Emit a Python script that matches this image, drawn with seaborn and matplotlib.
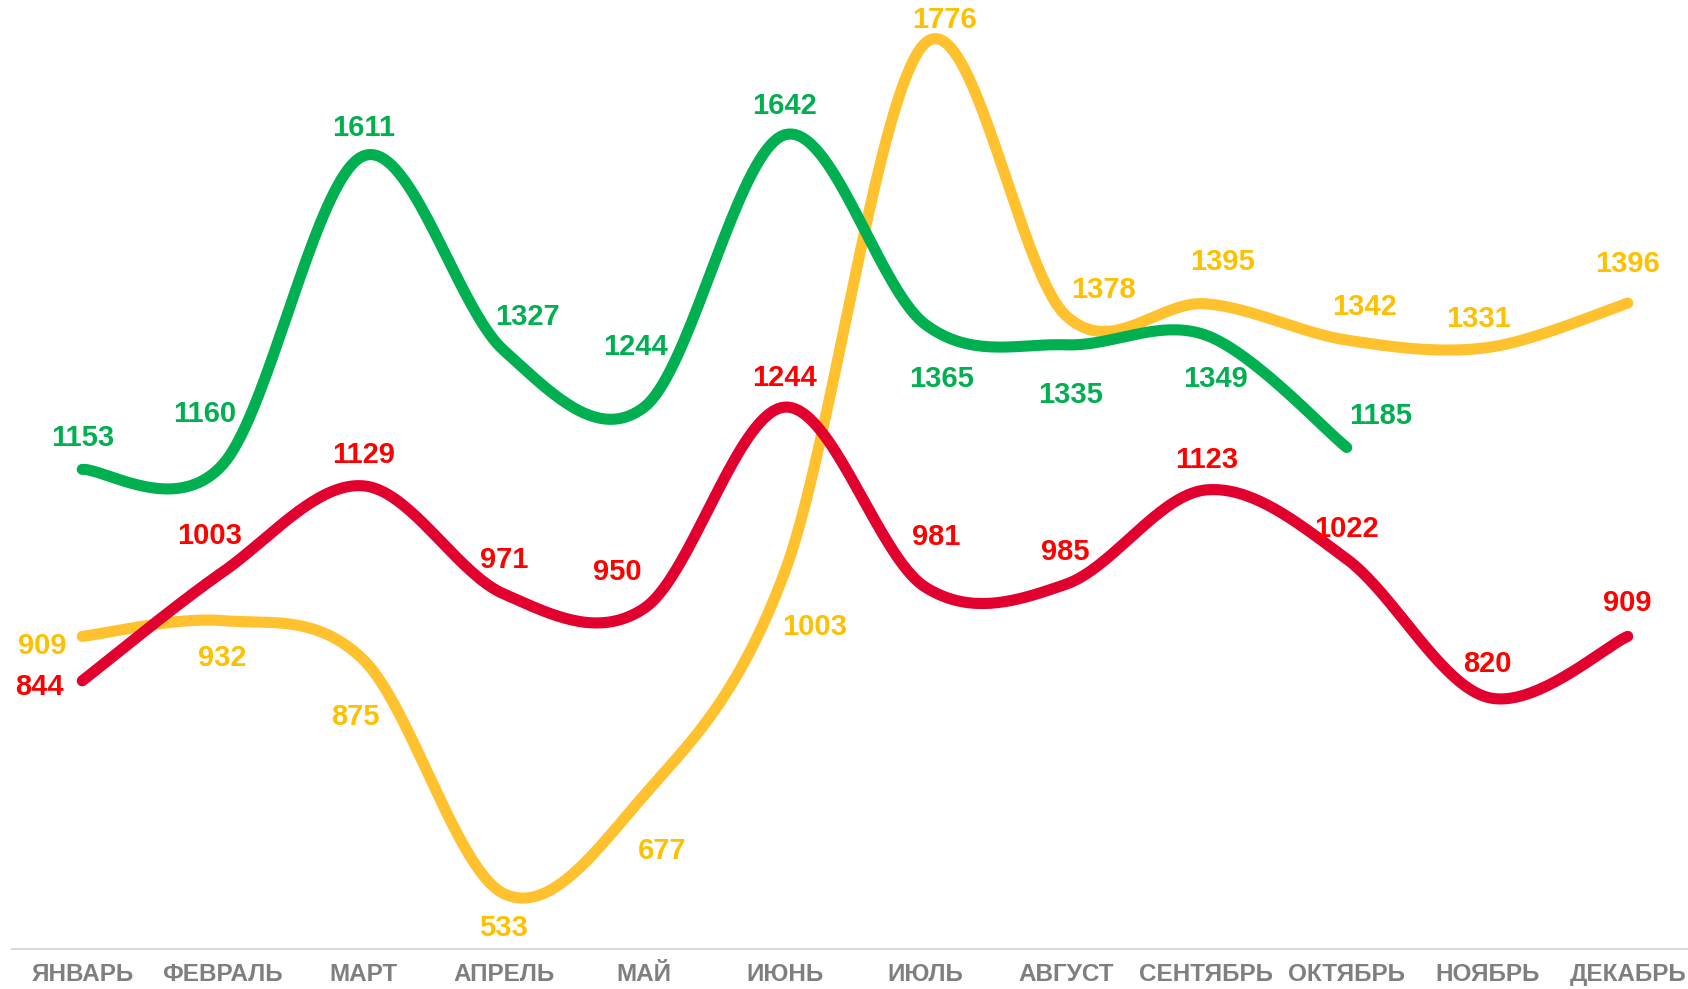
import numpy as np
import pandas as pd
import seaborn as sns
import matplotlib.pyplot as plt

# Months and the three series (green stops at October)
months = ['ЯНВАРЬ', 'ФЕВРАЛЬ', 'МАРТ', 'АПРЕЛЬ', 'МАЙ', 'ИЮНЬ',
          'ИЮЛЬ', 'АВГУСТ', 'СЕНТЯБРЬ', 'ОКТЯБРЬ', 'НОЯБРЬ', 'ДЕКАБРЬ']
green_vals = [1153, 1160, 1611, 1327, 1244, 1642, 1365, 1335, 1349, 1185]
red_vals = [844, 1003, 1129, 971, 950, 1244, 981, 985, 1123, 1022, 820, 909]
yellow_vals = [909, 932, 875, 533, 677, 1003, 1776, 1378, 1395, 1342, 1331, 1396]

# label offsets in pixels (dx, dy), Excel-like placement
green_off = [(0, 31), (-18, 51), (0, 28), (24, 33), (-9, 60), (0, 29),
             (16, -55), (5, -50), (9, -44), (34, 31)]
red_off = [(-43, -6), (-13, 36), (0, 31), (0, 34), (-27, 36), (0, 29),
           (11, 50), (0, 32), (0, 30), (0, 30), (0, 33), (0, 33)]
yellow_off = [(-40, -10), (0, -37), (-8, -57), (0, -34), (18, -56), (30, -55),
              (19, 23), (38, 25), (16, 42), (18, 33), (-9, 29), (0, 39)]


def smooth(xs, ys, n=40):
    # Catmull-Rom style bezier, similar to Excel's smoothed line
    pts = np.column_stack([xs, ys]).astype(float)
    p = np.vstack([pts[0], pts, pts[-1]])
    t = np.linspace(0, 1, n)[:, None]
    segs = []
    for i in range(1, len(p) - 2):
        p0, p1, p2, p3 = p[i - 1], p[i], p[i + 1], p[i + 2]
        c1 = p1 + (p2 - p0) / 6
        c2 = p2 - (p3 - p1) / 6
        segs.append((1 - t) ** 3 * p1 + 3 * (1 - t) ** 2 * t * c1
                    + 3 * (1 - t) * t ** 2 * c2 + t ** 3 * p2)
    curve = np.vstack(segs)
    return pd.DataFrame({'x': curve[:, 0], 'y': curve[:, 1]})


sns.set_theme(style='white')
plt.rcParams['font.family'] = ['Liberation Sans', 'DejaVu Sans']

fig = plt.figure(figsize=(16.88, 9.89), dpi=100)
# plot area runs a little past the right edge, like the original
ax = fig.add_axes([0.0071, 0.0404, 0.9988, 0.9596])

series = [
    (yellow_vals, yellow_off, '#FFC12E', '#FFC000'),
    (green_vals, green_off, '#00B050', '#00B050'),
    (red_vals, red_off, '#E1002E', '#FF0000'),
]

for vals, offs, line_col, text_col in series:
    xs = np.arange(len(vals))
    df = smooth(xs, vals)
    sns.lineplot(data=df, x='x', y='y', ax=ax, color=line_col, lw=8,
                 sort=False, estimator=None, solid_capstyle='round')
    for x, v, (dx, dy) in zip(xs, vals, offs):
        ax.annotate(str(v), (x, v), xytext=(dx, dy), textcoords='offset pixels',
                    ha='center', va='center', fontsize=21, fontweight='bold',
                    color=text_col)

ax.set_xlim(-0.5, 11.5)
ax.set_ylim(452, 1839)
ax.set_xticks(range(len(months)))
ax.set_xticklabels(months, fontsize=17.5, fontweight='bold', color='#7F7F7F')
ax.tick_params(axis='x', length=0, pad=10)
ax.set_yticks([])
ax.set_xlabel('')
ax.set_ylabel('')
for side in ['top', 'left', 'right']:
    ax.spines[side].set_visible(False)
ax.spines['bottom'].set_color('#D9D9D9')
ax.spines['bottom'].set_linewidth(1.5)

fig.savefig('out.png', dpi=100)
